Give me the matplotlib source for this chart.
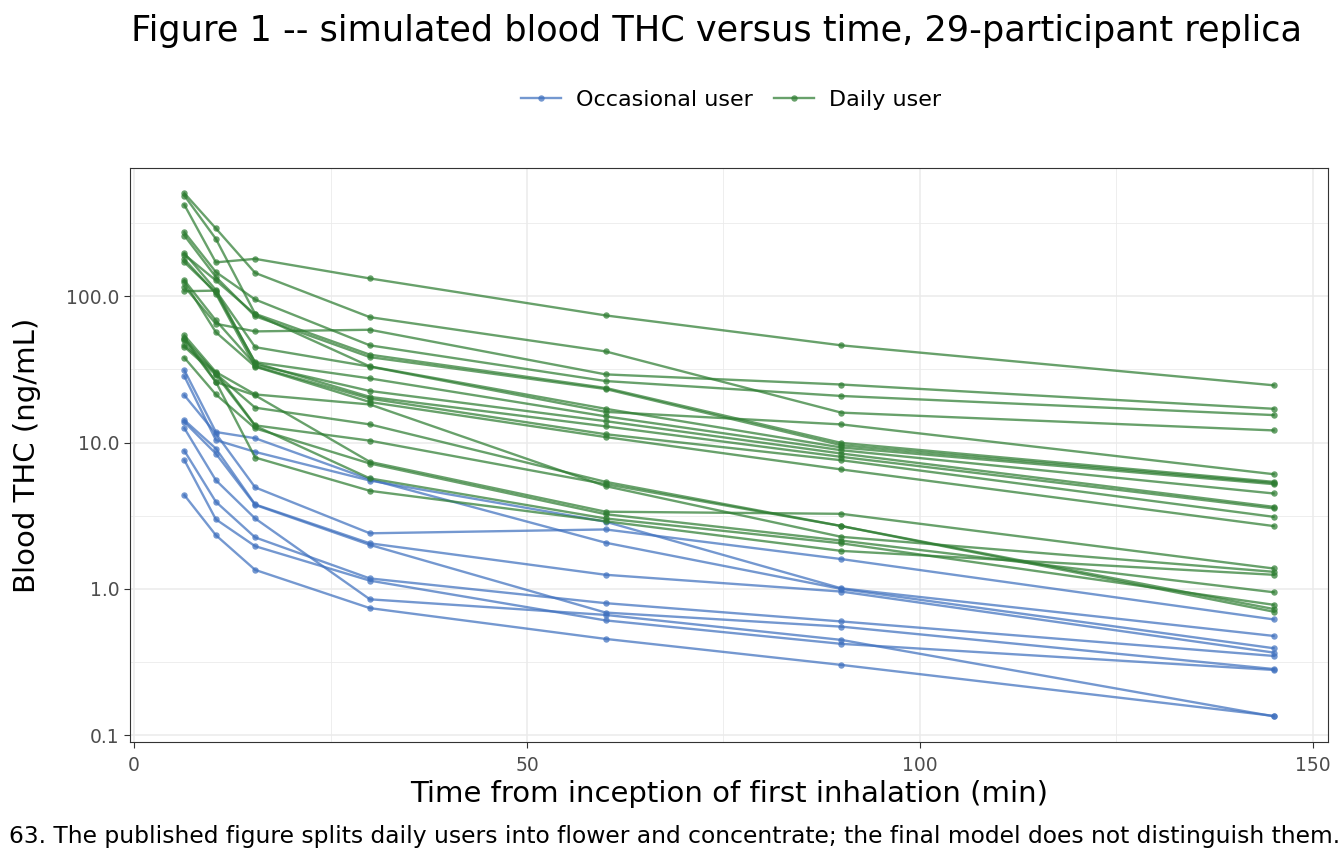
import numpy as np
import matplotlib.pyplot as plt
from matplotlib.ticker import FixedLocator, NullFormatter
from matplotlib.lines import Line2D

# sampling times (min from inception of first inhalation)
times = [6.4, 10.4, 15.4, 30, 60, 90, 145]

# blood THC (ng/mL), one row per participant
occasional = [
    [31.1, 11.8, 10.7, 5.6, 2.07, 1.00, 0.394],
    [28.3, 10.4, 8.63, 5.5, 2.88, 1.01, 0.478],
    [21.0, 11.5, 4.94, 2.40, 2.55, 1.60, 0.62],
    [14.2, 9.1, 3.78, 2.05, 1.25, 0.96, 0.368],
    [13.8, 8.4, 3.75, 2.0, 0.69, 0.553, 0.284],
    [12.5, 5.53, 3.03, 0.85, 0.665, 0.449, 0.135],
    [8.77, 3.94, 2.25, 1.18, 0.80, 0.60, 0.349],
    [7.57, 2.99, 1.96, 1.14, 0.61, 0.422, 0.28],
    [4.37, 2.33, 1.35, 0.74, 0.456, 0.303, 0.136],
]

daily = [
    [419, 170, 179.6, 132, 73.8, 46.1, 24.6],
    [503, 290, 144, 71.8, 41.9, 16.0, 12.1],
    [116, 64.7, 57.4, 58.9, 29.2, 24.9, 17.0],
    [273, 146, 94.8, 46.1, 26.3, 20.8, 15.4],
    [485, 246, 75.7, 39.8, 23.6, 9.94, 5.39],
    [259, 135, 72.9, 38.3, 23.2, 9.59, 5.3],
    [192, 128, 75.0, 33.1, 17.0, 9.25, 5.2],
    [108, 109, 44.8, 33.0, 16.2, 13.3, 6.08],
    [170, 106, 35.4, 27.4, 15.1, 8.86, 4.49],
    [128, 68.2, 34.0, 22.5, 14.0, 8.41, 3.64],
    [196, 110, 35.0, 20.5, 12.9, 7.98, 3.55],
    [178, 104, 33.1, 19.95, 11.4, 7.57, 3.11],
    [125, 56.7, 33.0, 18.9, 10.9, 6.55, 2.69],
    [53.9, 30.3, 21.3, 18.2, 5.04, 2.27, 1.31],
    [51.2, 29.5, 17.3, 13.3, 5.39, 2.69, 0.70],
    [46.1, 30.0, 13.1, 10.3, 5.2, 2.69, 0.73],
    [50.0, 25.9, 21.0, 7.38, 3.37, 3.26, 1.38],
    [37.9, 21.3, 12.5, 7.19, 3.24, 2.14, 0.95],
    [45.0, 29.0, 13.0, 5.69, 3.03, 2.05, 0.78],
    [52.0, 26.0, 7.9, 4.68, 2.90, 1.82, 1.25],
]

group_labels = ['Occasional user', 'Daily user']
y_ticks = [0.1, 1, 10, 100]
y_tick_labels = ['0.1', '1.0', '10.0', '100.0']
x_ticks = [0, 50, 100, 150]

BLUE = '#3F70BE'
GREEN = '#2E7D32'

fig = plt.figure(figsize=(13.44, 8.64), dpi=100)
ax = fig.add_axes([0.0967, 0.1412, 0.8914, 0.6644])

for row in occasional:
    ax.plot(times, row, color=BLUE, lw=1.7, alpha=0.72, marker='o',
            ms=4.6, mew=0, zorder=3)
for row in daily:
    ax.plot(times, row, color=GREEN, lw=1.7, alpha=0.72, marker='o',
            ms=4.6, mew=0, zorder=4)

ax.set_yscale('log')
ax.set_ylim(10 ** -1.045, 10 ** 2.875)
ax.set_xlim(-0.53, 151.93)

ax.set_yticks(y_ticks)
ax.set_yticklabels(y_tick_labels)
ax.yaxis.set_minor_locator(FixedLocator([10 ** -0.5, 10 ** 0.5, 10 ** 1.5, 10 ** 2.5]))
ax.yaxis.set_minor_formatter(NullFormatter())
ax.set_xticks(x_ticks)
ax.set_xticks([25, 75, 125], minor=True)

ax.grid(which='major', color='#EBEBEB', lw=1.1)
ax.grid(which='minor', color='#EBEBEB', lw=0.6)
ax.set_axisbelow(True)
ax.tick_params(which='minor', length=0)
ax.tick_params(which='major', length=4, width=0.8, color='#333333',
               labelsize=13.5, labelcolor='#4D4D4D')
ax.tick_params(axis='x', pad=6)
for sp in ax.spines.values():
    sp.set_color('#333333')
    sp.set_linewidth(0.8)

ax.set_xlabel('Time from inception of first inhalation (min)', fontsize=21)
ax.set_ylabel('Blood THC (ng/mL)', fontsize=21)
ax.xaxis.set_label_coords(0.5, -0.066)
ax.yaxis.set_label_coords(-0.074, 0.5)

fig.text(0.533, 0.964, 'Figure 1 -- simulated blood THC versus time, 29-participant replica',
         ha='center', va='center', fontsize=25.3)

handles = [Line2D([], [], color=BLUE, lw=1.7, alpha=0.72, marker='o', ms=4.6, mew=0),
           Line2D([], [], color=GREEN, lw=1.7, alpha=0.72, marker='o', ms=4.6, mew=0)]
fig.legend(handles, group_labels, loc='center', bbox_to_anchor=(0.544, 0.884),
           ncol=2, frameon=False, fontsize=16, handlelength=1.8, columnspacing=0.95,
           handletextpad=0.68)

# caption: shrunk a touch so the first digit is not clipped
fig.text(1340 / 1344, 0.0324,
         '63. The published figure splits daily users into flower and concentrate; '
         'the final model does not distinguish them.',
         ha='right', va='center', fontsize=16.8)

fig.savefig('out.png', dpi=100)
